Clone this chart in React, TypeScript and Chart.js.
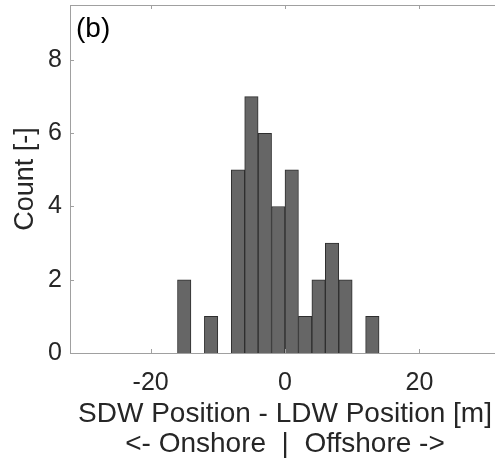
import React, { useEffect, useRef } from "react";
import { Chart, registerables } from "chart.js";

Chart.register(...registerables);

// Histogram bins (bin width 2 m), centres and counts
const binCenters = [-15, -13, -11, -9, -7, -5, -3, -1, 1, 3, 5, 7, 9, 11, 13];
const counts = [2, 0, 1, 0, 5, 7, 6, 4, 5, 1, 2, 3, 2, 0, 1];
const xTicks = [-20, 0, 20];
const yTicks = [0, 2, 4, 6, 8];
const xRange = [-32, 32];
const yRange = [0, 9.5];
const xTitle = ["SDW Position - LDW Position [m]", "<- Onshore  |  Offshore ->"];
const yTitle = "Count [-]";
const panelLabel = "(b)";

const FONT = "'Liberation Sans', Arial, Helvetica, sans-serif";
const TEXT = "#262626";
const AXIS = "#a0a0a0";

const boxPlugin = {
  id: "boxPlugin",
  afterDraw(chart: any) {
    const { ctx, chartArea } = chart;
    const { left, right, top, bottom } = chartArea;
    const xs = chart.scales.x;
    const ys = chart.scales.y;
    ctx.save();
    // keep the (off-screen) right part of the plot area clean
    ctx.fillStyle = "#ffffff";
    ctx.fillRect(right - 9, top + 1, chart.width - right + 9, bottom - top - 2);
    ctx.strokeStyle = AXIS;
    ctx.lineWidth = 1;
    ctx.beginPath();
    ctx.moveTo(left, top + 0.5);
    ctx.lineTo(chart.width, top + 0.5);
    const tl = 4;
    xTicks.forEach((v) => {
      const px = Math.round(xs.getPixelForValue(v)) + 0.5;
      ctx.moveTo(px, bottom);
      ctx.lineTo(px, bottom - tl);
      ctx.moveTo(px, top);
      ctx.lineTo(px, top + tl);
    });
    yTicks.forEach((v) => {
      const py = Math.round(ys.getPixelForValue(v)) + 0.5;
      ctx.moveTo(left, py);
      ctx.lineTo(left + tl, py);
    });
    ctx.stroke();
    ctx.fillStyle = "#000000";
    ctx.font = `28px ${FONT}`;
    ctx.textBaseline = "middle";
    ctx.textAlign = "left";
    ctx.fillText(panelLabel, left + 6, top + 24);
    ctx.restore();
  },
};

const zeroPad = (s: any) => {
  s.paddingTop = 0;
  s.paddingBottom = 0;
  s.paddingLeft = 0;
  s.paddingRight = 0;
};

export default function App() {
  const ref = useRef<HTMLCanvasElement>(null);
  useEffect(() => {
    document.body.style.margin = "0";
    document.body.style.overflow = "hidden";
    const chart = new Chart(ref.current as HTMLCanvasElement, {
      type: "bar",
      data: {
        datasets: [
          {
            data: binCenters.map((x, i) => ({ x, y: counts[i] })),
            backgroundColor: "#666666",
            borderColor: "#2e2e2e",
            borderWidth: 1,
            borderSkipped: "start",
            categoryPercentage: 1,
            barPercentage: 1,
          },
        ],
      },
      options: {
        responsive: false,
        animation: false,
        layout: { padding: { left: 0, top: 5, right: 10, bottom: 0 } },
        plugins: { legend: { display: false }, tooltip: { enabled: false } },
        scales: {
          x: {
            type: "linear",
            min: xRange[0],
            max: xRange[1],
            offset: false,
            grid: { display: false, drawTicks: false },
            border: { display: true, color: AXIS, width: 1 },
            afterBuildTicks: (s: any) => {
              s.ticks = xTicks.map((v) => ({ value: v }));
            },
            afterFit: (s: any) => {
              s.height = 112;
              zeroPad(s);
            },
            ticks: {
              color: TEXT,
              font: { family: FONT, size: 25 },
              padding: 15,
              maxRotation: 0,
              autoSkip: false,
            },
            title: {
              display: true,
              text: xTitle,
              color: TEXT,
              font: { family: FONT, size: 28, lineHeight: "29.5px" },
              padding: { top: 0, bottom: 6 },
            },
          },
          y: {
            type: "linear",
            min: yRange[0],
            max: yRange[1],
            grid: { display: false, drawTicks: false },
            border: { display: true, color: AXIS, width: 1 },
            afterBuildTicks: (s: any) => {
              s.ticks = yTicks.map((v) => ({ value: v }));
            },
            afterFit: (s: any) => {
              s.width = 70;
              zeroPad(s);
            },
            ticks: {
              color: TEXT,
              font: { family: FONT, size: 25 },
              padding: 8,
            },
            title: {
              display: true,
              text: yTitle,
              color: TEXT,
              font: { family: FONT, size: 27 },
              padding: { top: 9, bottom: 0 },
            },
          },
        },
      },
      plugins: [boxPlugin],
    } as any);
    return () => chart.destroy();
  }, []);
  return (
    <div style={{ position: "fixed", left: 0, top: 0, width: 510, height: 465, background: "#ffffff" }}>
      <canvas ref={ref} width={510} height={465} />
    </div>
  );
}
